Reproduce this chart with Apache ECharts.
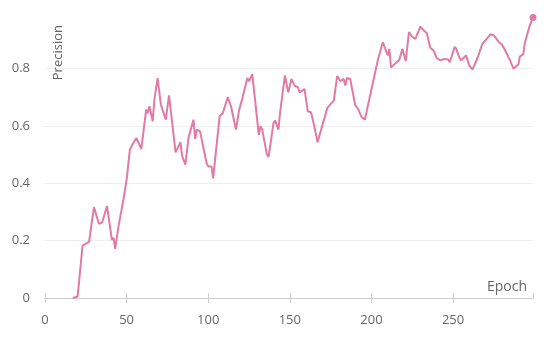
<!DOCTYPE html>
<html>
<head>
<meta charset="utf-8">
<script src="https://cdn.jsdelivr.net/npm/echarts@6/dist/echarts.min.js"></script>
<style>
  html, body { margin: 0; padding: 0; background: #fff; }
  #chart { width: 550px; height: 338px; }
</style>
</head>
<body>
<div id="chart"></div>
<script>
// precision per epoch
const epochs = [17, 20, 23, 27, 30, 33, 35, 38, 41, 42, 43, 45, 48, 50, 52, 54, 56, 59, 62, 63,
  64, 66, 67, 69, 71, 74, 76, 80, 83, 84, 86, 88, 89, 91, 92, 93, 95, 99, 100, 102,
  103, 107, 109, 112, 114, 115, 117, 119, 121, 124, 125, 127, 131, 132, 133, 136, 137, 140, 141, 143,
  144, 147, 149, 151, 153, 155, 156, 159, 161, 163, 165, 167, 168, 173, 177, 179, 181, 183, 184, 185,
  187, 190, 192, 194, 196, 200, 204, 207, 208, 210, 211, 212, 215, 217, 219, 221, 223, 225, 226, 227,
  228, 230, 232, 234, 236, 238, 240, 242, 245, 247, 248, 249, 251, 252, 254, 255, 258, 260, 262, 265,
  268, 271, 273, 275, 278, 280, 282, 283, 285, 287, 288, 290, 291, 293, 294, 297, 299]
const precision = [0, 0.005, 0.183, 0.196, 0.317, 0.259, 0.263, 0.321, 0.203, 0.21, 0.171, 0.249, 0.342, 0.412, 0.517, 0.54, 0.558, 0.52, 0.657, 0.645,
  0.669, 0.616, 0.692, 0.767, 0.674, 0.622, 0.707, 0.508, 0.543, 0.496, 0.465, 0.561, 0.566, 0.622, 0.555, 0.587, 0.581, 0.471, 0.459, 0.459,
  0.417, 0.634, 0.645, 0.701, 0.668, 0.674, 0.587, 0.657, 0.698, 0.767, 0.756, 0.781, 0.569, 0.599, 0.589, 0.5, 0.492, 0.61, 0.619, 0.587,
  0.645, 0.776, 0.717, 0.764, 0.74, 0.735, 0.717, 0.729, 0.651, 0.648, 0.599, 0.543, 0.546, 0.663, 0.689, 0.774, 0.756, 0.764, 0.741, 0.767,
  0.764, 0.674, 0.657, 0.631, 0.622, 0.727, 0.832, 0.892, 0.892, 0.846, 0.869, 0.804, 0.82, 0.829, 0.869, 0.826, 0.927, 0.911, 0.916, 0.904,
  0.919, 0.946, 0.934, 0.923, 0.873, 0.864, 0.837, 0.829, 0.834, 0.832, 0.822, 0.826, 0.876, 0.869, 0.837, 0.829, 0.846, 0.81, 0.797, 0.837,
  0.886, 0.906, 0.92, 0.916, 0.893, 0.884, 0.863, 0.858, 0.828, 0.8, 0.797, 0.814, 0.843, 0.85, 0.89, 0.95, 0.978]

const chart = echarts.init(document.getElementById('chart'))
const font = '"Open Sans", sans-serif'
const lastIdx = epochs.length - 1

const option = {
  animation: false,
  grid: { left: 45, right: 17, top: 17, bottom: 40 },
  xAxis: [
    {
      type: 'value',
      min: 0,
      max: 299,
      interval: 50,
      name: 'Epoch',
      nameLocation: 'end',
      nameGap: -6,
      nameTextStyle: { color: '#666', fontFamily: font, fontSize: 14, align: 'right', verticalAlign: 'bottom', padding: [0, 0, 4, 0] },
      axisLine: { show: true, lineStyle: { color: '#ccc' } },
      axisTick: { show: true, length: 5, lineStyle: { color: '#ccc' } },
      axisLabel: { color: '#666', fontFamily: font, fontSize: 13, margin: 16, showMaxLabel: false },
      splitLine: { show: false }
    },
    {
      // second copy only for the upper half of the ticks
      type: 'value',
      position: 'bottom',
      min: 0,
      max: 299,
      interval: 50,
      axisLine: { show: false },
      axisTick: { show: true, inside: true, length: 5, lineStyle: { color: '#ccc' } },
      axisLabel: { show: false },
      splitLine: { show: false }
    }
  ],
  yAxis: {
    type: 'value',
    min: 0,
    max: 0.98,
    interval: 0.2,
    name: 'Precision',
    nameLocation: 'end',
    nameRotate: 90,
    nameGap: -8,
    nameTextStyle: { color: '#666', fontFamily: font, fontSize: 13, align: 'right', verticalAlign: 'top', padding: [7, 0, 0, 0] },
    axisLine: { show: false },
    axisTick: { show: false },
    axisLabel: { color: '#666', fontFamily: font, fontSize: 13, margin: 15, showMaxLabel: false },
    splitLine: { show: true, showMinLine: false, showMaxLine: false, lineStyle: { color: '#eee' } }
  },
  series: [{
    type: 'line',
    data: epochs.map((e, i) => [e, precision[i]]),
    symbol: 'circle',
    showAllSymbol: true,
    symbolSize: (v, p) => (p.dataIndex === lastIdx ? 7 : 0),
    itemStyle: { color: '#e17aa4' },
    lineStyle: { color: '#e17aa4', width: 2 }
  }]
}

chart.setOption(option)
</script>
</body>
</html>
